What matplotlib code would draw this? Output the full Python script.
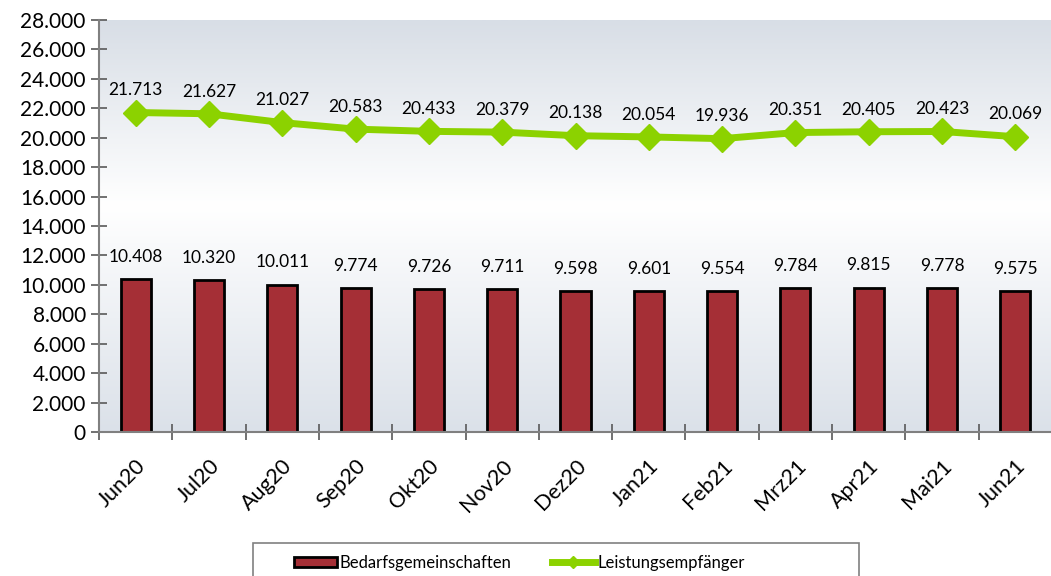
import numpy as np
import matplotlib
matplotlib.use("Agg")
from matplotlib import pyplot as plt
from matplotlib.colors import LinearSegmentedColormap
from matplotlib.patches import Rectangle
from matplotlib.lines import Line2D

plt.rcParams['font.family'] = ['Lato', 'DejaVu Sans']

months = ['Jun20', 'Jul20', 'Aug20', 'Sep20', 'Okt20', 'Nov20', 'Dez20',
          'Jan21', 'Feb21', 'Mrz21', 'Apr21', 'Mai21', 'Jun21']
bedarf = [10408, 10320, 10011, 9774, 9726, 9711, 9598, 9601, 9554, 9784, 9815, 9778, 9575]
leistung = [21713, 21627, 21027, 20583, 20433, 20379, 20138, 20054, 19936, 20351, 20405, 20423, 20069]
yticks = np.arange(0, 28001, 2000)

bar_col = '#A52F36'
green = '#8CD200'


def de(v):
    return f"{v:,}".replace(',', '.')


fig = plt.figure(figsize=(10.51, 5.76), dpi=100)
ax = fig.add_axes([99 / 1051, 1 - 432 / 576, 1 - 99 / 1051 + 0.001, 412 / 576])

# background gradient: grey top, white middle, grey bottom
cmap = LinearSegmentedColormap.from_list(
    'bg', [(0.0, '#DBE1E9'), (0.55, '#FFFFFF'), (1.0, '#D8DEE6')])
grad = np.linspace(0, 1, 256).reshape(-1, 1)
ax.imshow(grad, aspect='auto', cmap=cmap, extent=(-0.5, 12.5, 0, 28000),
          origin='lower', zorder=0)

x = np.arange(len(months))
ax.bar(x, bedarf, width=0.41, color=bar_col, edgecolor='black', linewidth=2, zorder=2)
ax.plot(x, leistung, color=green, lw=5, marker='D', markersize=13, zorder=3)

for xi, v in zip(x, bedarf):
    ax.annotate(de(v), (xi, v), xytext=(0, 16), textcoords='offset points',
                ha='center', va='center', fontsize=12.5)
for xi, v in zip(x, leistung):
    ax.annotate(de(v), (xi, v), xytext=(0, 16), textcoords='offset points',
                ha='center', va='center', fontsize=12.5)

ax.set_xlim(-0.5, 12.5)
ax.set_ylim(0, 28000)
ax.set_yticks(yticks)
ax.set_yticklabels([de(int(t)) for t in yticks], fontsize=15)
ax.set_xticks(x)
ax.set_xticklabels(months, fontsize=15.5, rotation=45, ha='right', rotation_mode='anchor')
ax.set_xticks(np.arange(-0.5, 12.6, 1), minor=True)
ax.tick_params(axis='x', which='major', length=0, pad=17)
ax.tick_params(axis='x', which='minor', direction='inout', length=12, width=1.2, color='#595959')
ax.tick_params(axis='y', direction='inout', length=11, width=1.2, color='#595959', pad=4)

for s in ['top', 'right']:
    ax.spines[s].set_visible(False)
for s in ['left', 'bottom']:
    ax.spines[s].set_color('#808080')
    ax.spines[s].set_linewidth(1.5)

# legend box (runs off the bottom of the figure)
fig.patches.append(Rectangle((253 / 1051, -0.05), 606 / 1051, 1 - 543 / 576 + 0.05,
                             transform=fig.transFigure, facecolor='white',
                             edgecolor='#808080', linewidth=1.2))
handles = [Rectangle((0, 0), 1, 1, facecolor=bar_col, edgecolor='black', linewidth=2),
           Line2D([], [], color=green, lw=5, marker='D', markersize=6)]
fig.legend(handles, ['Bedarfsgemeinschaften', 'Leistungsempfänger'],
           loc='center left', bbox_to_anchor=(294 / 1051, 1 - 563 / 576),
           ncol=2, frameon=False, fontsize=12, handlelength=2.6, handleheight=0.6,
           handletextpad=0.15, columnspacing=2.4, borderpad=0, borderaxespad=0)

fig.savefig('out.png', dpi=100)
